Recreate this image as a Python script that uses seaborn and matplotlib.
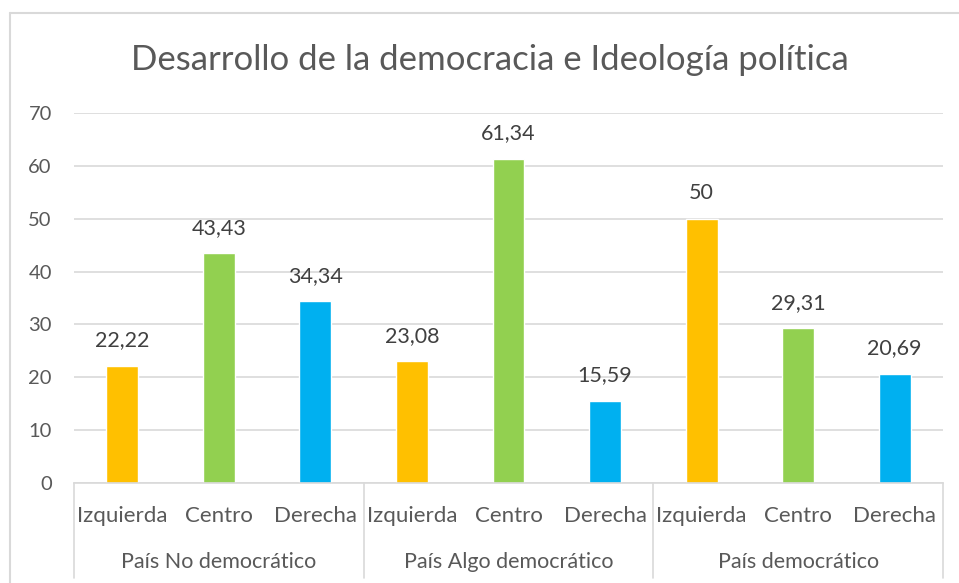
import matplotlib
matplotlib.use("Agg")
import matplotlib.pyplot as plt
from matplotlib.lines import Line2D
import seaborn as sns
import pandas as pd

# ---- data ----
grupos = ["País No democrático", "País Algo democrático", "País democrático"]
ideologias = ["Izquierda", "Centro", "Derecha"]
no_democratico = [22.22, 43.43, 34.34]
algo_democratico = [23.08, 61.34, 15.59]
democratico = [50, 29.31, 20.69]
titulo = "Desarrollo de la democracia e Ideología política"
colores = ["#FFC000", "#92D050", "#00B0F0"]

valores = [no_democratico, algo_democratico, democratico]
rows = []
for g, vals in zip(grupos, valores):
    for ideo, v in zip(ideologias, vals):
        rows.append({"pos": f"{g}|{ideo}", "grupo": g, "ideologia": ideo, "valor": v})
df = pd.DataFrame(rows)

sns.set_theme(style="white")
plt.rcParams["font.family"] = ["Lato", "DejaVu Sans"]

W, H = 959, 583
fig = plt.figure(figsize=(W / 100, H / 100), dpi=100)
ax_l, ax_r, ax_b, ax_t = 74, 943, 483, 113
ax = fig.add_axes([ax_l / W, (H - ax_b) / H, (ax_r - ax_l) / W, (ax_b - ax_t) / H])

sns.barplot(data=df, x="pos", y="valor", hue="ideologia", order=list(df["pos"]),
            hue_order=ideologias, palette=colores, dodge=False, width=0.33,
            saturation=1, legend=False, ax=ax)

ax.set_ylim(0, 70)
ax.set_xlim(-0.5, len(df) - 0.5)
ax.set_yticks(range(0, 71, 10))
ax.yaxis.grid(True, color="#D9D9D9", linewidth=1.2)
ax.set_axisbelow(True)
for s in ["top", "right", "left"]:
    ax.spines[s].set_visible(False)
ax.spines["bottom"].set_color("#D9D9D9")
ax.spines["bottom"].set_linewidth(1.2)
ax.set_xlabel("")
ax.set_ylabel("")
txt = "#595959"
ax.tick_params(axis="y", length=0, pad=16, labelsize=14.5, labelcolor=txt)
ax.set_xticks(range(len(df)))
ax.set_xticklabels(list(df["ideologia"]), fontsize=16, color=txt)
ax.tick_params(axis="x", length=0, pad=16.5)

# data labels
for cont in ax.containers:
    for p in cont:
        v = p.get_height()
        lab = f"{v:.2f}".replace(".", ",") if v != int(v) else str(int(v))
        ax.annotate(lab, (p.get_x() + p.get_width() / 2, v),
                    xytext=(0, 11), textcoords="offset points", ha="center", va="bottom",
                    fontsize=15.5, color="#404040")

# group labels and separators
tr = ax.get_xaxis_transform()
hpx = ax_b - ax_t
for i, g in enumerate(grupos):
    ax.text(3 * i + 1, -(562 - ax_b) / hpx, g, transform=tr, ha="center", va="center",
            fontsize=15.5, color=txt)
for xs in [-0.5, 2.5, 5.5, 8.5]:
    ax.add_line(Line2D([xs, xs], [0, -(578 - ax_b) / hpx], transform=tr, color="#D9D9D9",
                       linewidth=1.2, clip_on=False))

fig.text(490 / W, 1 - 60 / H, titulo, ha="center", va="center", fontsize=25, color=txt)

# chart border
fig.add_artist(Line2D([10 / W, 10 / W], [0, 1 - 13 / H], transform=fig.transFigure,
                      color="#D9D9D9", linewidth=1.5))
fig.add_artist(Line2D([10 / W, 1], [1 - 13 / H, 1 - 13 / H], transform=fig.transFigure,
                      color="#D9D9D9", linewidth=1.5))

fig.savefig("out.png", dpi=100)
